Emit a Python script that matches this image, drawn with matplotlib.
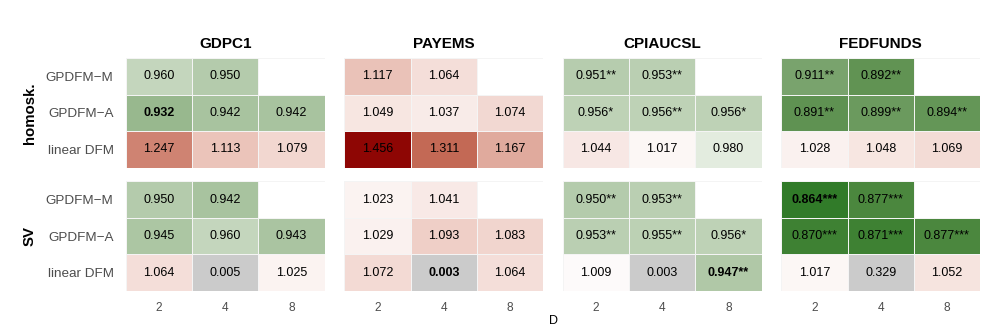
import numpy as np
import matplotlib
matplotlib.use("Agg")
import matplotlib.pyplot as plt
from matplotlib.colors import LinearSegmentedColormap, TwoSlopeNorm, ListedColormap

plt.rcParams['font.family'] = ['Liberation Sans', 'DejaVu Sans']

# datos
series = ["GDPC1", "PAYEMS", "CPIAUCSL", "FEDFUNDS"]
variantes = ["homosk.", "SV"]
modelos = ["GPDFM\u2212M", "GPDFM\u2212A", "linear DFM"]
D = [2, 4, 8]

# valores: [variante][serie] -> filas = modelos, columnas = D (None = sin dato)
valores = {
    "homosk.": {
        "GDPC1":    [[0.960, 0.950, None], [0.932, 0.942, 0.942], [1.247, 1.113, 1.079]],
        "PAYEMS":   [[1.117, 1.064, None], [1.049, 1.037, 1.074], [1.456, 1.311, 1.167]],
        "CPIAUCSL": [[0.951, 0.953, None], [0.956, 0.956, 0.956], [1.044, 1.017, 0.980]],
        "FEDFUNDS": [[0.911, 0.892, None], [0.891, 0.899, 0.894], [1.028, 1.048, 1.069]],
    },
    "SV": {
        "GDPC1":    [[0.950, 0.942, None], [0.945, 0.960, 0.943], [1.064, 0.005, 1.025]],
        "PAYEMS":   [[1.023, 1.041, None], [1.029, 1.093, 1.083], [1.072, 0.003, 1.064]],
        "CPIAUCSL": [[0.950, 0.953, None], [0.953, 0.955, 0.956], [1.009, 0.003, 0.947]],
        "FEDFUNDS": [[0.864, 0.877, None], [0.870, 0.871, 0.877], [1.017, 0.329, 1.052]],
    },
}

estrellas = {
    "homosk.": {
        "GDPC1":    [["", "", ""], ["", "", ""], ["", "", ""]],
        "PAYEMS":   [["", "", ""], ["", "", ""], ["", "", ""]],
        "CPIAUCSL": [["**", "**", ""], ["*", "**", "*"], ["", "", ""]],
        "FEDFUNDS": [["**", "**", ""], ["**", "**", "**"], ["", "", ""]],
    },
    "SV": {
        "GDPC1":    [["", "", ""], ["", "", ""], ["", "", ""]],
        "PAYEMS":   [["", "", ""], ["", "", ""], ["", "", ""]],
        "CPIAUCSL": [["**", "**", ""], ["**", "**", "*"], ["", "", "**"]],
        "FEDFUNDS": [["***", "***", ""], ["***", "***", "***"], ["", "", ""]],
    },
}

# celdas en negrita (variante, serie, fila, columna)
negrita = [("homosk.", "GDPC1", 1, 0), ("SV", "PAYEMS", 2, 1),
           ("SV", "CPIAUCSL", 2, 2), ("SV", "FEDFUNDS", 0, 0)]
# celdas sin color (relleno gris)
gris = [("SV", "GDPC1", 2, 1), ("SV", "PAYEMS", 2, 1),
        ("SV", "CPIAUCSL", 2, 1), ("SV", "FEDFUNDS", 2, 1)]

# escala de color (interpolación tipo Lab entre darkgreen - blanco - darkred)
cmap = LinearSegmentedColormap.from_list("gwr", [
    (0.0, "#006400"), (0.125, "#528a44"), (0.25, "#86ab7a"), (0.375, "#c5d7be"),
    (0.5, "#ffffff"),
    (0.625, "#ebc3b9"), (0.75, "#d18978"), (0.875, "#bd5a44"), (1.0, "#8b0000")])
norm = TwoSlopeNorm(vmin=0.84, vcenter=1.0, vmax=1.465)
cmap_gris = ListedColormap(["#cbcbcb"])

fig, axes = plt.subplots(2, 4, figsize=(9.88, 3.3), dpi=100)
fig.subplots_adjust(left=126/988, right=980/988, top=1-58/330, bottom=1-291/330,
                    wspace=0.1, hspace=0.125)

for r, var in enumerate(variantes):
    for c, s in enumerate(series):
        ax = axes[r, c]
        v = np.array([[np.nan if x is None else x for x in fila] for fila in valores[var][s]])
        mask_gris = np.zeros_like(v, dtype=bool)
        for (vv, ss, i, j) in gris:
            if vv == var and ss == s:
                mask_gris[i, j] = True
        colored = np.ma.masked_where(np.isnan(v) | mask_gris, v)
        grey = np.ma.masked_where(~mask_gris, v)
        ax.pcolormesh(colored, cmap=cmap, norm=norm, edgecolors="#f4f4f4", linewidth=0.6)
        ax.pcolormesh(grey, cmap=cmap_gris, edgecolors="#f4f4f4", linewidth=0.6)
        for i in range(len(modelos)):
            for j in range(len(D)):
                if np.isnan(v[i, j]):
                    continue
                peso = "bold" if (var, s, i, j) in negrita else "normal"
                ax.text(j + 0.5, i + 0.5, f"{v[i, j]:.3f}" + estrellas[var][s][i][j],
                        ha="center", va="center", fontsize=9, fontweight=peso, color="black")
        ax.set_xlim(0, 3)
        ax.set_ylim(3, 0)
        for sp in ax.spines.values():
            sp.set_visible(False)
        ax.tick_params(length=0, colors="#4d4d4d")
        ax.set_xticks(np.arange(len(D)) + 0.5)
        ax.set_yticks(np.arange(len(modelos)) + 0.5)
        if r == 1:
            ax.set_xticklabels([str(d) for d in D], fontsize=8.6, color="#4d4d4d")
            ax.tick_params(axis="x", pad=8)
        else:
            ax.set_xticklabels([])
            ax.set_title(s, fontsize=11, fontweight="bold", pad=7)
        if c == 0:
            ax.set_yticklabels(modelos, fontsize=9.7, color="#4d4d4d")
            ax.tick_params(axis="y", pad=9)
        else:
            ax.set_yticklabels([])

# etiquetas de grupo
for r, var in enumerate(variantes):
    pos = axes[r, 0].get_position()
    fig.text(30/988, (pos.y0 + pos.y1) / 2, var, rotation=90, ha="center", va="center",
             fontsize=10.8, fontweight="bold")

fig.text(553/988, 1-321/330, "D", ha="center", va="center", fontsize=9)

fig.savefig("out.png", dpi=100, facecolor="white")
